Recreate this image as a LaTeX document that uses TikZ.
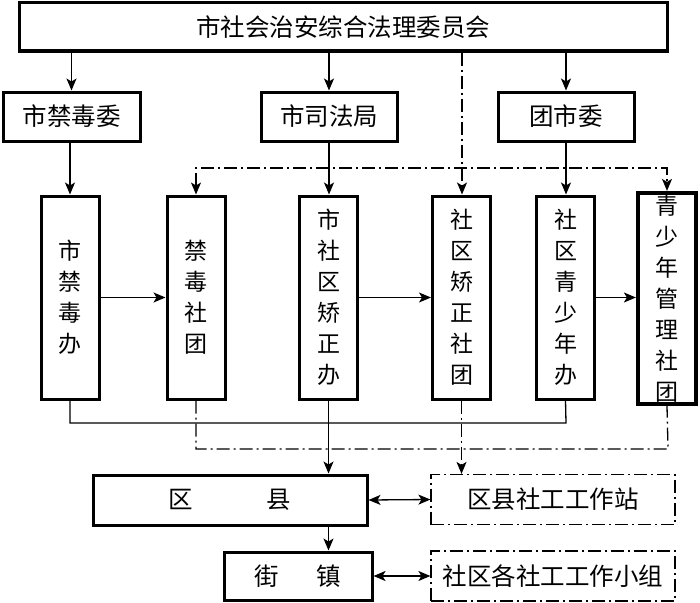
\documentclass[tikz,border=0pt]{standalone}
\usepackage{fontspec}
\setmainfont{Noto Sans CJK SC}
\usetikzlibrary{arrows.meta}
\tikzset{
  box/.style={draw,line width=3pt,inner sep=0pt,align=center,font=\fontsize{24.5}{31}\selectfont},
  vbox/.style={box,minimum width=58pt,minimum height=203pt,font=\fontsize{23}{31}\selectfont},
  dd/.style={dash pattern=on 13pt off 4pt on 2pt off 4pt},
  dbox/.style={draw,line width=1.2pt,dd,inner sep=0pt,align=center,font=\fontsize{24.5}{31}\selectfont,minimum width=244pt,minimum height=50pt},
  conn/.style={line width=1.3pt},
  tip/.tip={Stealth[length=12pt,width=10pt,inset=3pt]},
  arr/.style={conn,-tip},
  darr/.style={conn,tip-tip}
}
\begin{document}
\begin{tikzpicture}[x=1pt,y=-1pt]
\useasboundingbox (0,0) rectangle (700,602);
% top
\node[box,minimum width=648pt,minimum height=48pt,font=\fontsize{24.5}{31}\selectfont] (top) at (343,27) {市社会治安综合法理委员会};
% second row
\node[box,minimum width=137pt,minimum height=49pt] (jdw) at (71.5,116.5) {市禁毒委};
\node[box,minimum width=136pt,minimum height=49pt] (sfj) at (329,116.5) {市司法局};
\node[box,minimum width=136pt,minimum height=49pt] (tsw) at (566,116.5) {团市委};
% third row
\node[vbox] (jdb) at (70,297.5) {市\\禁\\毒\\办};
\node[vbox] (jdst) at (196,297.5) {禁\\毒\\社\\团};
\node[vbox] (sjz) at (328.5,297.5) {市\\社\\区\\矫\\正\\办};
\node[vbox] (jzst) at (461.5,297.5) {社\\区\\矫\\正\\社\\团};
\node[vbox] (qsb) at (565.5,297.5) {社\\区\\青\\少\\年\\办};
\node[vbox,line width=4.2pt,minimum height=211pt] (qsn) at (667,298.5) {青\\少\\年\\管\\理\\社\\团};
% bottom
\node[box,minimum width=274pt,minimum height=50pt] (qx) at (230,500) {区\hspace{73.5pt}县};
\node[dbox] (qxz) at (553,499.5) {区县社工工作站};
\node[box,minimum width=148pt,minimum height=48pt] (jz) at (298,576) {街\hspace{37.5pt}镇};
\node[dbox] (xz) at (553,576) {社区各社工工作小组};
% coordinates
\coordinate (ddline) at (462,168);
\coordinate (coll) at (566,423);
\coordinate (dcoll) at (668,449);
% top to second row
\draw[arr] (top.south -| jdw) -- (jdw.north);
\draw[arr] (top.south -| sfj) -- (sfj.north);
\draw[arr] (top.south -| tsw) -- (tsw.north);
\draw[arr,dd] (top.south -| ddline) -- (jzst.north -| ddline);
% second to third
\draw[arr] (jdw.south -| jdb) -- (jdb.north);
\draw[arr] (sfj.south) -- (sjz.north -| sfj);
\draw[arr] (tsw.south) -- (qsb.north -| tsw);
\draw[darr,dd] (jdst.north) -- (jdst.north |- ddline) -| (qsn.north);
% horizontal
\draw[arr] (jdb.east) -- (jdst.west);
\draw[arr] (sjz.east) -- (jzst.west);
\draw[arr] (qsb.east) -- (qsb.east -| qsn.west);
% collectors
\draw[conn] (jdb.south) |- (coll) -- (qsb.south);
\draw[arr] (sjz.south) -- (sjz.south |- qx.north);
\draw[conn,dd] (jdst.south) |- (dcoll) -- (qsn.south);
\draw[arr,dd] (jzst.south) -- (jzst.south |- qxz.north);
% bottom
\draw[darr] (qx.east) -- (qxz.west);
\draw[arr] (qx.south -| sjz) -- (jz.north -| sjz);
\draw[darr] (jz.east) -- (xz.west);
\end{tikzpicture}
\end{document}
